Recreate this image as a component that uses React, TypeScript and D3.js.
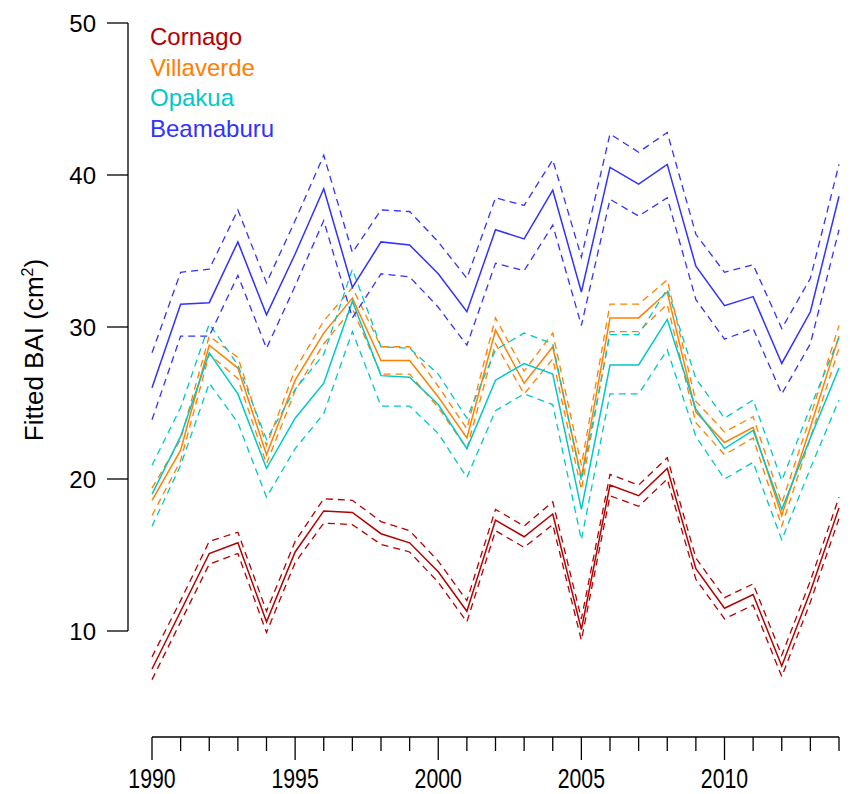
import { useMemo } from "react"
import * as d3 from "d3"

const years = d3.range(1990, 2015)

const sites = ["Cornago", "Villaverde", "Opakua", "Beamaburu"]
const siteColors = ["#B40000", "#FF8000", "#00C8C8", "#3232FF"]

// fitted BAI, one row per site (1990..2014)
const fitCornago = [7.5, 11.3, 15.1, 15.8, 10.6, 15.2, 17.9, 17.8, 16.4, 15.8, 13.9, 11.3, 17.3, 16.2, 17.7, 10.1, 19.6, 18.9, 20.7, 14.1, 11.5, 12.4, 7.7, 12.6, 18.1]
const upCornago = [8.3, 12.0, 15.9, 16.5, 11.3, 15.9, 18.7, 18.6, 17.2, 16.6, 14.6, 12.0, 18.0, 16.9, 18.5, 10.8, 20.3, 19.6, 21.4, 14.8, 12.2, 13.1, 8.4, 13.3, 18.8]
const loCornago = [6.8, 10.6, 14.4, 15.1, 9.9, 14.5, 17.1, 17.0, 15.7, 15.2, 13.2, 10.6, 16.6, 15.5, 17.0, 9.4, 18.9, 18.2, 20.0, 13.4, 10.8, 11.7, 7.0, 11.9, 17.4]

const fitVillaverde = [18.6, 21.9, 28.8, 27.3, 21.6, 26.5, 29.6, 31.9, 27.8, 27.8, 25.4, 22.7, 29.8, 26.3, 28.7, 20.1, 30.6, 30.6, 32.3, 24.4, 22.4, 23.4, 17.6, 23.4, 29.4]
const upVillaverde = [19.4, 22.6, 29.4, 28.0, 22.2, 27.2, 30.4, 32.6, 28.7, 28.7, 26.1, 23.3, 30.6, 27.1, 29.6, 20.9, 31.5, 31.5, 33.1, 25.1, 23.1, 24.1, 18.4, 24.1, 30.1]
const loVillaverde = [17.6, 21.2, 28.2, 26.6, 21.0, 25.8, 28.9, 31.2, 26.9, 26.9, 24.7, 22.0, 28.9, 25.6, 27.9, 19.3, 29.7, 29.7, 31.5, 23.7, 21.6, 22.7, 16.9, 22.7, 28.6]

const fitOpakua = [19.0, 22.8, 28.3, 25.6, 20.7, 24.0, 26.3, 31.7, 26.8, 26.7, 24.9, 22.0, 26.5, 27.6, 26.9, 18.0, 27.5, 27.5, 30.5, 24.6, 22.0, 23.2, 18.0, 22.7, 27.3]
const upOpakua = [20.9, 24.7, 30.2, 27.5, 22.6, 25.9, 28.2, 33.8, 28.7, 28.6, 26.9, 24.0, 28.5, 29.6, 28.9, 19.9, 29.5, 29.5, 32.5, 26.6, 24.0, 25.2, 19.9, 24.7, 29.3]
const loOpakua = [16.9, 20.9, 26.3, 23.7, 18.8, 22.0, 24.3, 29.7, 24.8, 24.8, 23.0, 20.1, 24.5, 25.6, 24.9, 16.0, 25.6, 25.6, 28.5, 22.8, 20.0, 21.1, 16.0, 20.7, 25.2]

const fitBeamaburu = [26.0, 31.5, 31.6, 35.6, 30.8, 34.8, 39.1, 32.6, 35.6, 35.4, 33.5, 31.0, 36.4, 35.8, 39.0, 32.3, 40.5, 39.4, 40.7, 34.0, 31.4, 32.0, 27.6, 31.0, 38.6]
const upBeamaburu = [28.3, 33.6, 33.8, 37.7, 32.9, 37.0, 41.3, 34.9, 37.7, 37.6, 35.6, 33.2, 38.5, 38.0, 41.0, 34.6, 42.7, 41.5, 42.8, 36.1, 33.6, 34.1, 29.9, 33.2, 40.7]
const loBeamaburu = [23.9, 29.4, 29.4, 33.4, 28.6, 32.7, 37.0, 30.6, 33.5, 33.3, 31.3, 28.8, 34.2, 33.7, 36.7, 30.1, 38.4, 37.3, 38.5, 31.8, 29.2, 29.9, 25.6, 28.9, 36.4]

const yTicks = [10, 20, 30, 40, 50]
const xLabels = [1990, 1995, 2000, 2005, 2010]

const series = [
  { fit: fitCornago, up: upCornago, lo: loCornago },
  { fit: fitVillaverde, up: upVillaverde, lo: loVillaverde },
  { fit: fitOpakua, up: upOpakua, lo: loOpakua },
  { fit: fitBeamaburu, up: upBeamaburu, lo: loBeamaburu },
]

export default function App() {
  const width = 859
  const height = 794

  const x = d3.scaleLinear().domain([1990, 2014]).range([152, 839])
  const y = d3.scaleLinear().domain([10, 50]).range([631, 23])
  const axisX = 128
  const axisY = 737

  const line = useMemo(
    () =>
      d3
        .line<number>()
        .x((_, i) => x(years[i]))
        .y((d) => y(d)),
    []
  )

  return (
    <svg
      width={width}
      height={height}
      style={{ position: "absolute", left: 0, top: 0, background: "#fff" }}
      fontFamily="'Liberation Sans', Arial, sans-serif"
    >
      <rect width={width} height={height} fill="#fff" />

      {/* eje y */}
      <line x1={axisX} x2={axisX} y1={y(50)} y2={y(10)} stroke="#000" strokeWidth={1.3} />
      {yTicks.map((t) => (
        <g key={t}>
          <line x1={axisX - 21} x2={axisX} y1={y(t)} y2={y(t)} stroke="#000" strokeWidth={1.3} />
          <text x={96} y={y(t)} dy="0.36em" textAnchor="end" fontSize={24}>
            {t}
          </text>
        </g>
      ))}
      <text transform="translate(43,350) rotate(-90)" textAnchor="middle" fontSize={26}>
        Fitted BAI (cm<tspan dy={-10} fontSize={16}>2</tspan>
        <tspan dy={10}>)</tspan>
      </text>

      {/* eje x */}
      <line x1={x(1990)} x2={x(2014)} y1={axisY} y2={axisY} stroke="#000" strokeWidth={1.3} />
      {years.map((yr) => (
        <line
          key={yr}
          x1={x(yr)}
          x2={x(yr)}
          y1={axisY}
          y2={axisY + (yr % 5 === 0 ? 23 : 14)}
          stroke="#000"
          strokeWidth={1.3}
        />
      ))}
      {xLabels.map((yr) => (
        <text
          key={yr}
          transform={`translate(${x(yr)},788) scale(0.76,1)`}
          textAnchor="middle"
          fontSize={28}
        >
          {yr}
        </text>
      ))}

      {/* lineas */}
      {series.map((s, i) => (
        <g key={sites[i]} fill="none" stroke={siteColors[i]}>
          <path d={line(s.up) || ""} strokeWidth={1.3} strokeDasharray="7,5" />
          <path d={line(s.lo) || ""} strokeWidth={1.3} strokeDasharray="7,5" />
          <path d={line(s.fit) || ""} strokeWidth={1.5} />
        </g>
      ))}

      {/* leyenda */}
      {sites.map((name, i) => (
        <text key={name} x={150} y={45 + i * 30.7} fill={siteColors[i]} fontSize={24}>
          {name}
        </text>
      ))}
    </svg>
  )
}
